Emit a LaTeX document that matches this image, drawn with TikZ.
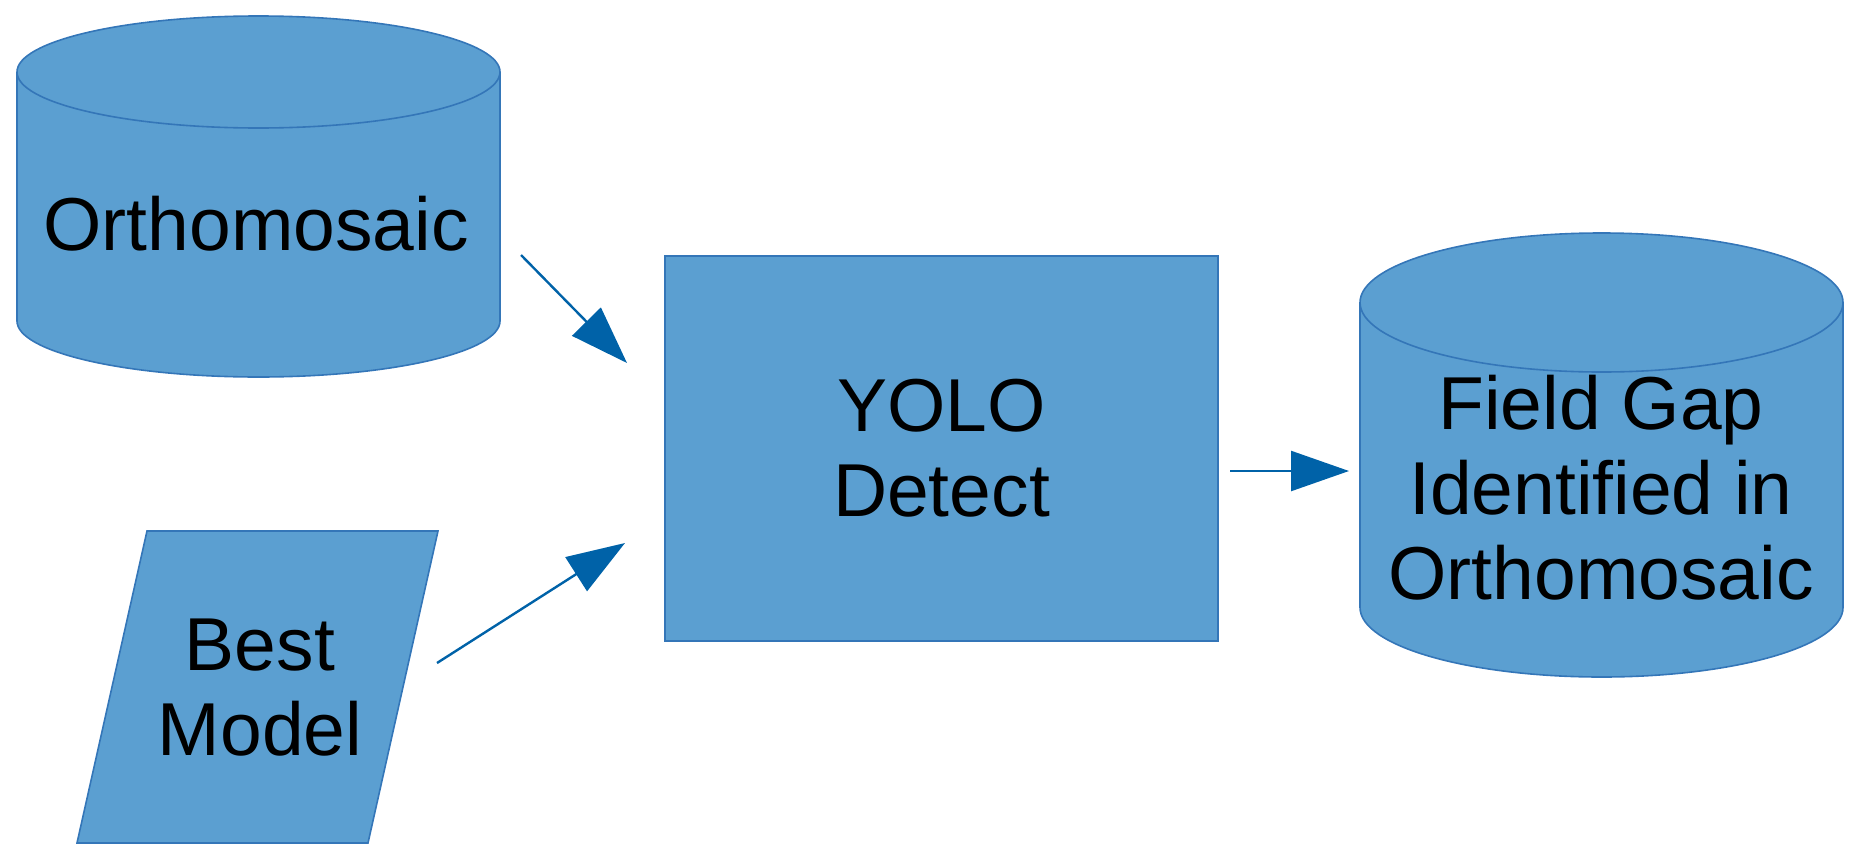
\documentclass[tikz,border=0pt]{standalone}
\usepackage{fontspec}
\setmainfont{Liberation Sans}
\usetikzlibrary{arrows.meta}
\definecolor{shape}{RGB}{91,159,209}
\definecolor{edge}{RGB}{52,118,184}
\definecolor{link}{RGB}{0,98,168}
\tikzset{
  body/.style={fill=shape, draw=edge, line width=0.8pt},
  rim/.style={draw=edge, line width=0.8pt},
  big/.style={font=\fontsize{37.5}{42.5}\selectfont, text=black, align=center, inner sep=0pt},
  procbox/.style={big, body, rectangle, minimum width=276.5pt, minimum height=192.5pt},
  flow/.style={-{Triangle[length=29pt,width=20pt]}, draw=link, line width=1.2pt},
}
% cylinder: centre x, top rim y, bottom rim y, x radius, y radius (y counted downwards)
\newcommand{\drum}[5]{%
  \filldraw[body] (#1-#4,-#2) -- (#1-#4,-#3)
    arc[start angle=180, end angle=360, x radius=#4, y radius=#5]
    -- (#1+#4,-#2)
    arc[start angle=0, end angle=180, x radius=#4, y radius=#5] -- cycle;
  \draw[rim] (#1-#4,-#2) arc[start angle=180, end angle=360, x radius=#4, y radius=#5];
}

\begin{document}
\begin{tikzpicture}[x=0.5pt, y=0.5pt]
  % two inputs feed the detector, which writes its result back as a store
  \useasboundingbox (0,0) rectangle (1855,-862);
  \drum{258.5}{72}{321}{241.5}{56}
  \node[big, anchor=base] (ortho) at (256,-250) {Orthomosaic};
  \filldraw[body] (147,-531) -- (438,-531) -- (368,-843) -- (77,-843) -- cycle;
  \node[big, anchor=base] (model) at (260,-755) {Best\\Model};
  \node[procbox] (yolo) at (941.5,-448.5) {YOLO\\Detect};
  \drum{1601.5}{302.5}{607.5}{241.5}{69.5}
  \node[big, anchor=base] (gap) at (1601,-599) {Field Gap\\Identified in\\Orthomosaic};
  \coordinate (ortho-out) at (521,-255);
  \coordinate (yolo-in1) at (627,-363);
  \coordinate (model-out) at (437,-663);
  \coordinate (yolo-in2) at (625,-543);
  \coordinate (yolo-out) at (1230,-471);
  \coordinate (gap-in) at (1349,-471);
  \draw[flow] (ortho-out) -- (yolo-in1);
  \draw[flow] (model-out) -- (yolo-in2);
  \draw[flow] (yolo-out) -- (gap-in);
\end{tikzpicture}
\end{document}
